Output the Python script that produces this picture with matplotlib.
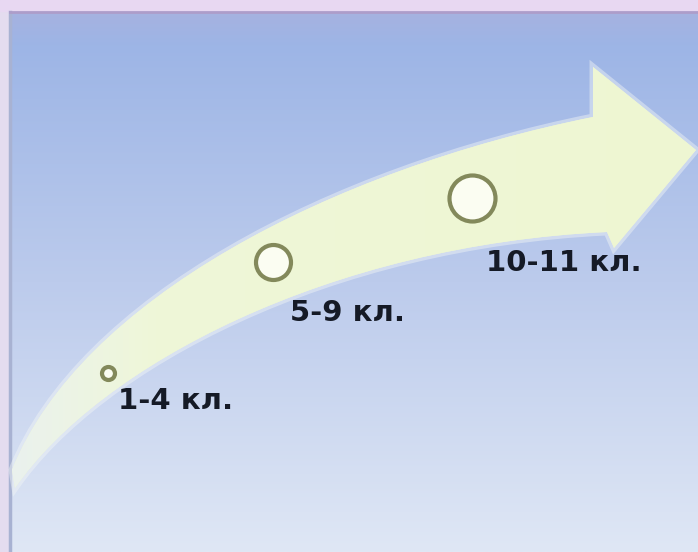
import numpy as np
import matplotlib
matplotlib.use("Agg")
import matplotlib.pyplot as plt
from matplotlib.path import Path
from matplotlib.patches import PathPatch, Rectangle
from matplotlib.colors import LinearSegmentedColormap

# --- content ---
labels = ["1-4 кл.", "5-9 кл.", "10-11 кл."]
circle_x = [108, 273, 472]
circle_y = [373, 262, 198]
circle_d = [17, 39, 50]          # outer diameter in px
label_x = [118, 290, 486]
label_y = [401, 313, 263]

W, H = 698, 552
fig = plt.figure(figsize=(W / 100, H / 100), dpi=100)
ax = fig.add_axes([0, 0, 1, 1])
ax.set_xlim(0, W)
ax.set_ylim(H, 0)
ax.axis("off")

# outer frame
ax.add_patch(Rectangle((0, 0), W, H, color="#e4dcef", zorder=0))
ax.add_patch(Rectangle((0, 0), W, 11, color="#e8d8f2", zorder=0.5))

# panel gradient
cm = LinearSegmentedColormap.from_list(
    "bg", [(0, "#a6b2e0"), (0.06, "#9db5e6"), (0.5, "#bccbec"), (1.0, "#dfe7f5")])
grad = np.linspace(0, 1, 256).reshape(-1, 1)
ax.imshow(grad, cmap=cm, extent=(11, W, H, 12), aspect="auto", zorder=1)
ax.plot([10, 10], [12, H], color="#a8b2d2", lw=2.5, zorder=2)
ax.plot([10, W], [11.5, 11.5], color="#ad9dca", lw=2, zorder=2)

# curved arrow
verts = [
    (12, 470),
    (80, 300), (330, 170), (593, 117),   # top edge
    (593, 67), (696, 150), (614, 248), (607, 232),  # head
    (330, 245), (100, 365), (15, 488),   # bottom edge (reversed)
    (12, 470),
]
codes = [Path.MOVETO,
         Path.CURVE4, Path.CURVE4, Path.CURVE4,
         Path.LINETO, Path.LINETO, Path.LINETO, Path.LINETO,
         Path.CURVE4, Path.CURVE4, Path.CURVE4,
         Path.CLOSEPOLY]
arrow_path = Path(verts, codes)

glow = PathPatch(arrow_path, facecolor="none", edgecolor="#f2f6f6", lw=5,
                 alpha=0.45, zorder=3)
ax.add_patch(glow)
band = PathPatch(arrow_path, facecolor="#eef6d3", edgecolor="none", zorder=3)
ax.add_patch(band)
acm = LinearSegmentedColormap.from_list(
    "arr", [(0, "#eaf1f0"), (0.22, "#eff7d8"), (1.0, "#eef6d2")])
gx = np.linspace(0, 1, 256).reshape(1, -1)
im = ax.imshow(gx, cmap=acm, extent=(0, W, H, 0), aspect="auto", zorder=3.5)
im.set_clip_path(band)

# circles
for x, y, d in zip(circle_x, circle_y, circle_d):
    ax.scatter([x], [y], s=((d - 4) * 0.72) ** 2, facecolor="#fbfdf2",
               edgecolor="#83895b", linewidths=3.0, zorder=5)

# labels
for t, x, y in zip(labels, label_x, label_y):
    ax.text(x, y, t, fontsize=21, fontweight="bold", color="#151a26",
            family="DejaVu Sans", ha="left", va="center", zorder=6)

fig.savefig("out.png", dpi=100)
